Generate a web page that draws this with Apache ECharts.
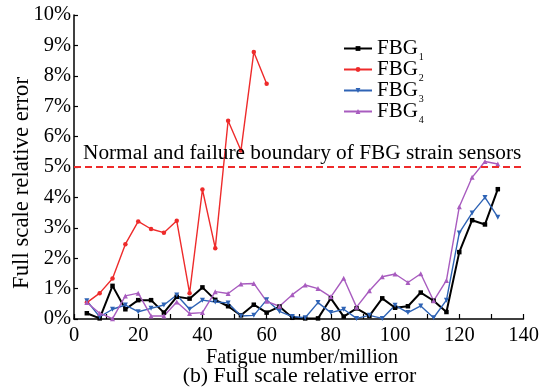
<!DOCTYPE html>
<html>
<head>
<meta charset="utf-8">
<script src="https://cdn.jsdelivr.net/npm/echarts@6/dist/echarts.min.js"></script>
<style>
html,body{margin:0;padding:0;background:#fff;}
#chart{width:548px;height:392px;}
</style>
</head>
<body>
<div id="chart"></div>
<script>
// Fatigue number (million) for each measurement
const xAll = [4,8,12,16,20,24,28,32,36,40,44,48,52,56,60,64,68,72,76,80,84,88,92,96,100,104,108,112,116,120,124,128,132];
const xRed = [4,8,12,16,20,24,28,32,36,40,44,48,52,56,60];

const fbg1 = [0.19,0.02,1.09,0.32,0.62,0.62,0.21,0.73,0.67,1.04,0.63,0.42,0.12,0.47,0.21,
              0.41,0.04,0.02,0.02,0.68,0.08,0.35,0.10,0.68,0.37,0.42,0.87,0.60,0.23,
              2.20,3.25,3.11,4.27];
const fbg2 = [0.54,0.85,1.33,2.46,3.21,2.96,2.84,3.23,0.85,4.26,2.33,6.52,5.54,8.78,7.74];
const fbg3 = [0.60,0.07,0.32,0.46,0.24,0.35,0.46,0.79,0.32,0.62,0.56,0.53,0.10,0.12,0.63,
              0.25,0.08,0.04,0.54,0.21,0.32,0.02,0.12,0.02,0.45,0.21,0.43,0.04,0.62,
              2.83,3.49,4.00,3.35];
const fbg4 = [0.54,0.19,0.01,0.76,0.85,0.10,0.10,0.56,0.18,0.21,0.90,0.84,1.15,1.17,0.58,
              0.42,0.80,1.12,1.00,0.73,1.34,0.39,0.93,1.39,1.48,1.20,1.49,0.60,1.27,
              3.69,4.66,5.18,5.10];

const seriesNames = ['FBG1','FBG2','FBG3','FBG4'];
const boundary = 5;
const boundaryText = 'Normal and failure boundary of FBG strain sensors';
const xTitle = 'Fatigue number/million';
const yTitle = 'Full scale relative error';
const subTitle = '(b) Full scale relative error';

const FONT = 'Liberation Serif';
const pair = (xs, ys) => ys.map((v, i) => [xs[i], v]);

const chart = echarts.init(document.getElementById('chart'), null, {renderer: 'canvas'});

function mk(name, xs, ys, color, symbol, size, width) {
  return {
    name: name, type: 'line', data: pair(xs, ys),
    symbol: symbol, symbolSize: size, showSymbol: true,
    lineStyle: {color: color, width: width},
    itemStyle: {color: color},
    animation: false, z: 3
  };
}

const s1 = mk(seriesNames[0], xAll, fbg1, '#000000', 'rect', 4.5, 2);
const s2 = mk(seriesNames[1], xRed, fbg2, '#ee2b2b', 'circle', 4.5, 1.4);
const s3 = mk(seriesNames[2], xAll, fbg3, '#2e63b5', 'triangle', 5, 1.4);
s3.symbolRotate = 180;
const s4 = mk(seriesNames[3], xAll, fbg4, '#a85cbf', 'triangle', 5, 1.4);
s2.markLine = {
  silent: true, symbol: ['none','none'], label: {show: false},
  lineStyle: {color: '#ee2b2b', type: [7, 4], width: 2},
  data: [{yAxis: boundary}], animation: false
};

chart.setOption({
  backgroundColor: '#ffffff',
  animation: false,
  textStyle: {fontFamily: FONT, color: '#000'},
  grid: {left: 74, right: 24.5, top: 15, bottom: 73, containLabel: false},
  xAxis: {
    type: 'value', min: 0, max: 140, interval: 20,
    axisLine: {show: true, onZero: false, lineStyle: {color: '#000', width: 1.5}},
    axisTick: {show: true, inside: true, length: 5, lineStyle: {color: '#000', width: 1.2}},
    minorTick: {show: true, splitNumber: 2, length: 5, lineStyle: {color: '#000', width: 1.2}},
    splitLine: {show: false},
    axisLabel: {fontFamily: FONT, fontSize: 20.5, color: '#000', margin: 6}
  },
  yAxis: {
    type: 'value', min: 0, max: 10, interval: 1,
    axisLine: {show: true, lineStyle: {color: '#000', width: 1.5}},
    axisTick: {show: true, inside: true, length: 4, lineStyle: {color: '#000', width: 1.2}},
    splitLine: {show: false},
    axisLabel: {fontFamily: FONT, fontSize: 20.5, color: '#000', margin: 3, formatter: '{value}%'}
  },
  legend: {
    orient: 'vertical', left: 338, top: 30, itemGap: -6,
    itemWidth: 28, itemHeight: 6,
    data: seriesNames,
    formatter: n => 'FBG{s|' + n.slice(3) + '}',
    textStyle: {
      fontFamily: FONT, fontSize: 21, color: '#000', lineHeight: 21,
      rich: {s: {fontFamily: FONT, fontSize: 10, lineHeight: 10, padding: [17, 0, 0, 1], color: '#000'}}
    }
  },
  graphic: [
    {type: 'text', x: 83, y: 153.5, style: {text: boundaryText, font: '21.3px "Liberation Serif"', fill: '#000', verticalAlign: 'middle', align: 'left'}, z: 10},
    {type: 'text', x: 302, y: 358, style: {text: xTitle, font: '20.3px "Liberation Serif"', fill: '#000', verticalAlign: 'middle', align: 'center'}},
    {type: 'text', x: 299.5, y: 376, style: {text: subTitle, font: '21.8px "Liberation Serif"', fill: '#000', verticalAlign: 'middle', align: 'center'}},
    {type: 'text', x: 22, y: 183, rotation: Math.PI / 2, style: {text: yTitle, font: '22.8px "Liberation Serif"', fill: '#000', verticalAlign: 'middle', align: 'center'}}
  ],
  series: [s1, s2, s3, s4]
});
</script>
</body>
</html>
